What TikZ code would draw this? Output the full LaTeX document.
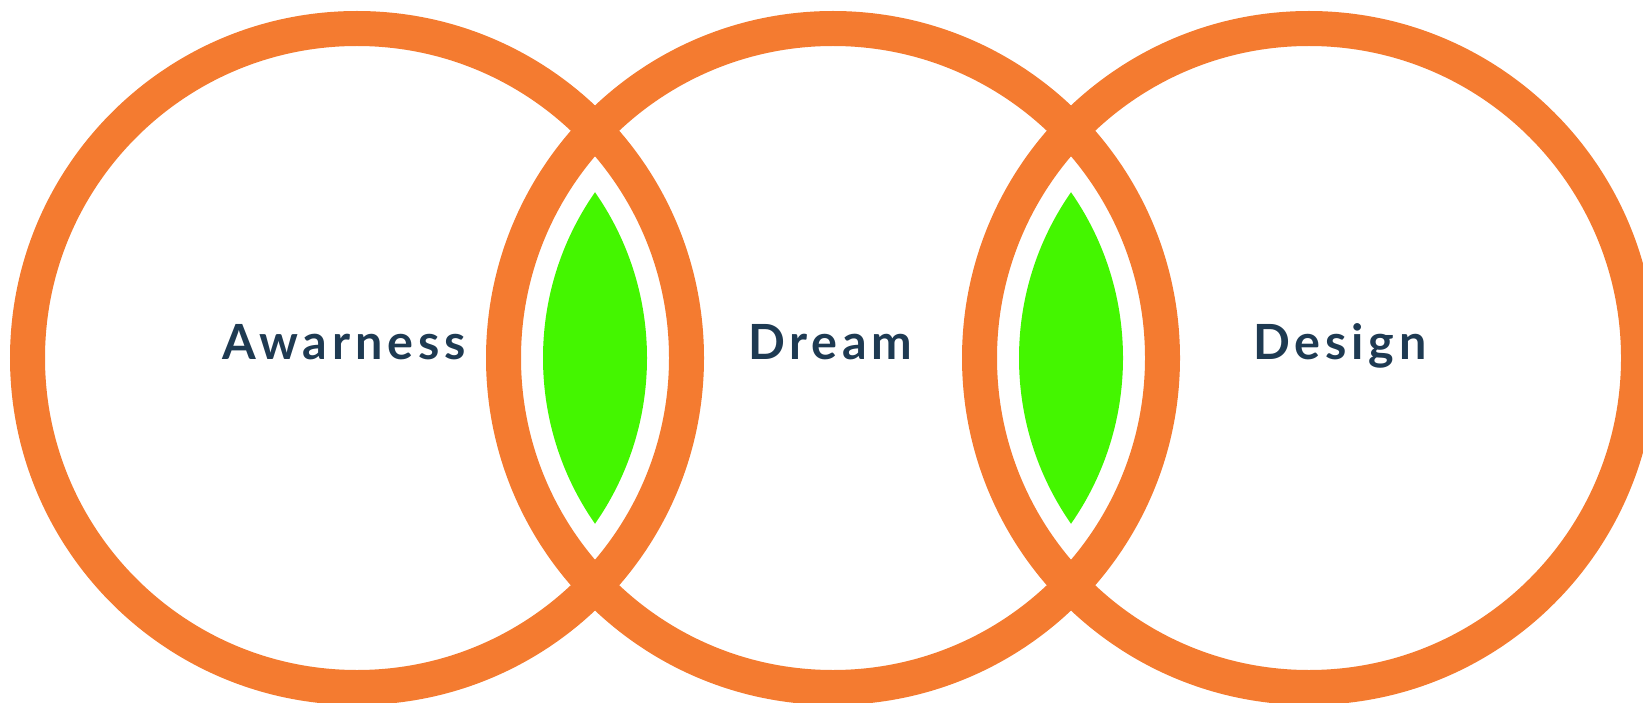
\documentclass[tikz,border=0pt]{standalone}
\usepackage{fontspec}
\newfontfamily\labelfont[LetterSpace=10]{Lato Bold}
\definecolor{ringorange}{HTML}{F47B30}
\definecolor{lensgreen}{HTML}{44F600}
\definecolor{labelnavy}{HTML}{1E3A52}
\begin{document}
\begin{tikzpicture}[x=1pt,y=-1pt,
  ring/.style={draw=ringorange,line width=35pt},
  lens/.style={fill=lensgreen},
  lbl/.style={anchor=base west,inner sep=0pt,text=labelnavy,font=\labelfont\fontsize{48.5}{48}\selectfont}]
\useasboundingbox (0,0) rectangle (1643,703);
\coordinate (c1) at (357,358);
\coordinate (c2) at (833,358);
\coordinate (c3) at (1309,358);
\begin{scope}
  \clip (c1) circle (290);
  \fill[lens] (c2) circle (290);
\end{scope}
\begin{scope}
  \clip (c2) circle (290);
  \fill[lens] (c3) circle (290);
\end{scope}
\draw[ring] (c1) circle (329.5);
\draw[ring] (c2) circle (329.5);
\draw[ring] (c3) circle (329.5);
\node[lbl] (awareness) at (222,359) {Awarness};
\node[lbl] (dream) at (748,359) {Dream};
\node[lbl] (design) at (1253,359) {Design};
\end{tikzpicture}
\end{document}
